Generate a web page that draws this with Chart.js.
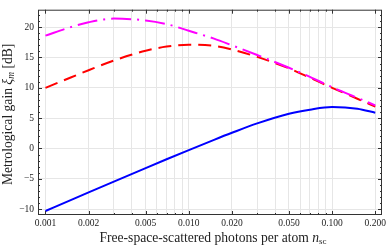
<!DOCTYPE html>
<html lang="en">
<head>
  <meta charset="UTF-8">
  <title>Metrological gain</title>
  <script src="https://cdn.jsdelivr.net/npm/chart.js"></script>
  <style>
    html, body { margin: 0; padding: 0; background: #fff; }
    #wrap { width: 390px; height: 247px; }
  </style>
</head>
<body>
  <div id="wrap"><canvas id="chart" width="390" height="247"></canvas></div>

  <script>
    // photons per atom (x) and gain in dB for the three curves
    const nsc = [0.001, 0.0015, 0.002, 0.003, 0.005, 0.007, 0.01, 0.015, 0.02, 0.03, 0.05, 0.07, 0.1, 0.15, 0.2];
    const gainMagenta = [18.6, 20.0, 20.8, 21.4, 21.1, 20.5, 19.4, 18.1, 17.0, 15.4, 13.3, 11.8, 10.1, 8.35, 7.1];
    const gainRed     = [10.0, 11.7, 12.9, 14.5, 16.1, 16.8, 17.1, 16.9, 16.3, 15.1, 13.2, 11.65, 10.0, 8.2, 6.9];
    const gainBlue    = [-10.3, -8.5, -7.23, -5.45, -3.23, -1.78, -0.26, 1.43, 2.59, 4.14, 5.74, 6.4, 6.83, 6.55, 5.9];

    const xLabelled = [0.001, 0.002, 0.005, 0.01, 0.02, 0.05, 0.1, 0.2];
    const xGrid = [];
    [0.001, 0.01, 0.1].forEach(d => { for (let k = 1; k <= 9; k++) xGrid.push(+(d * k).toPrecision(3)); });
    const yLabelled = [-10, -5, 0, 5, 10, 15, 20];

    const pts = ys => nsc.map((x, i) => ({ x: x, y: ys[i] }));
    const serif = '"Liberation Serif", "DejaVu Serif", serif';

    // frame, inward tick marks and axis titles (like Mathematica)
    const framePlugin = {
      id: "frame",
      afterDraw(chart) {
        const { ctx, chartArea: a, scales } = chart;
        ctx.save();
        ctx.strokeStyle = "#333";
        ctx.lineWidth = 1;
        ctx.strokeRect(a.left + 0.5, a.top + 0.5, a.right - a.left - 1, a.bottom - a.top - 1);

        ctx.beginPath();
        xGrid.forEach(v => {
          if (v > scales.x.max) return;
          const px = Math.round(scales.x.getPixelForValue(v)) + 0.5;
          const len = xLabelled.includes(v) ? 4 : 2;
          ctx.moveTo(px, a.bottom); ctx.lineTo(px, a.bottom - len);
          ctx.moveTo(px, a.top); ctx.lineTo(px, a.top + len);
        });
        for (let v = -10; v <= 22; v++) {
          const py = Math.round(scales.y.getPixelForValue(v)) + 0.5;
          const len = v % 5 === 0 ? 4 : 2;
          ctx.moveTo(a.left, py); ctx.lineTo(a.left + len, py);
          ctx.moveTo(a.right, py); ctx.lineTo(a.right - len, py);
        }
        ctx.stroke();

        ctx.fillStyle = "#222";
        ctx.textBaseline = "alphabetic";
        const drawParts = (parts, cx, cy) => {
          let w = 0;
          parts.forEach(p => { ctx.font = p.f; p.w = ctx.measureText(p.t).width; w += p.w; });
          let x = cx - w / 2;
          parts.forEach(p => { ctx.font = p.f; ctx.fillText(p.t, x, cy + (p.dy || 0)); x += p.w; });
        };
        const big = "13.6px " + serif, it = "italic 13.6px " + serif, sub = "italic 9.5px " + serif, subUp = "9px " + serif;

        drawParts([
          { t: "Free-space-scattered photons per atom ", f: big },
          { t: "n", f: it },
          { t: "sc", f: subUp, dy: 2 }
        ], 213, 242);

        ctx.translate(12, (a.top + a.bottom) / 2 + 2);
        ctx.rotate(-Math.PI / 2);
        drawParts([
          { t: "Metrological gain ", f: big },
          { t: "\u03BE", f: it },
          { t: "m", f: sub, dy: 2 },
          { t: " [dB]", f: big }
        ], 0, 0);
        ctx.restore();
      }
    };

    const ctx = document.getElementById("chart").getContext("2d");
    new Chart(ctx, {
      type: "line",
      data: {
        datasets: [
          { data: pts(gainMagenta), borderColor: "#ff00ff", borderWidth: 2, borderDash: [20, 6, 2, 6] },
          { data: pts(gainRed), borderColor: "#ff0000", borderWidth: 2, borderDash: [13, 7] },
          { data: pts(gainBlue), borderColor: "#0000ff", borderWidth: 2 }
        ]
      },
      options: {
        responsive: false,
        animation: false,
        events: [],
        layout: { padding: { top: 3, right: 8, left: 0, bottom: 0 } },
        elements: { point: { radius: 0 }, line: { cubicInterpolationMode: "monotone", fill: false } },
        plugins: { legend: { display: false }, tooltip: { enabled: false } },
        scales: {
          x: {
            type: "logarithmic",
            min: 0.000887,
            max: 0.2228,
            afterBuildTicks: s => { s.ticks = xGrid.filter(v => v <= 0.2228).map(v => ({ value: v })); },
            afterFit: s => { s.height = 32; },
            border: { display: false },
            grid: { color: "#e6e6e6", drawTicks: false },
            ticks: {
              autoSkip: false,
              maxRotation: 0,
              padding: 3,
              color: "#222",
              font: { family: serif, size: 9.5 },
              callback: v => xLabelled.includes(+(+v).toPrecision(3)) ? (+v).toFixed(3) : ""
            }
          },
          y: {
            min: -10.96,
            max: 22.87,
            afterBuildTicks: s => { s.ticks = yLabelled.map(v => ({ value: v })); },
            afterFit: s => { s.width = 38; },
            border: { display: false },
            grid: { color: "#e6e6e6", drawTicks: false },
            ticks: {
              padding: 4,
              color: "#222",
              font: { family: serif, size: 9.5 },
              callback: v => v < 0 ? "\u2212" + Math.abs(v) : String(v)
            }
          }
        }
      },
      plugins: [framePlugin]
    });
  </script>
</body>
</html>
